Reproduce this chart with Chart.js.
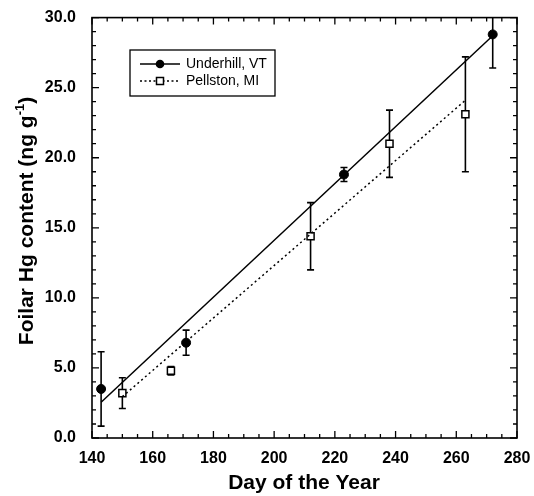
<!DOCTYPE html>
<html>
<head>
<meta charset="utf-8">
<script src="https://cdn.jsdelivr.net/npm/chart.js@4.4.1/dist/chart.umd.min.js"></script>
<style>
  body { margin: 0; background: #fff; }
  canvas { display: block; }
</style>
</head>
<body>
<canvas id="hgChart" width="534" height="496"></canvas>
<script>
// measured values (day of year, foliar Hg ng/g, +/- error)
const underhillDay = [143, 171, 223, 272];
const underhillHg = [3.5, 6.8, 18.8, 28.8];
const underhillErr = [2.65, 0.9, 0.5, 2.4];

const pellstonDay = [150, 166, 212, 238, 263];
const pellstonHg = [3.2, 4.8, 14.4, 21.0, 23.1];
const pellstonErr = [1.1, 0.3, 2.4, 2.4, 4.1];

// regression line end points
const underhillFitDay = [143, 272];
const underhillFitHg = [2.55, 28.7];
const pellstonFitDay = [150, 263];
const pellstonFitHg = [2.95, 24.1];

const xTicks = [140, 160, 180, 200, 220, 240, 260, 280];
const yTicks = [0, 5, 10, 15, 20, 25, 30];

const FONT = '"Liberation Sans", Arial, Helvetica, sans-serif';

const toPoints = (xs, ys) => xs.map((x, i) => ({ x, y: ys[i] }));

// error bars, drawn under the markers
const errorBars = {
  id: 'errorBars',
  beforeDatasetsDraw(chart) {
    const { ctx, chartArea, scales: { x, y } } = chart;
    const sets = [
      [underhillDay, underhillHg, underhillErr],
      [pellstonDay, pellstonHg, pellstonErr],
    ];
    ctx.save();
    ctx.beginPath();
    ctx.rect(chartArea.left, chartArea.top, chartArea.right - chartArea.left, chartArea.bottom - chartArea.top);
    ctx.clip();
    ctx.strokeStyle = '#000';
    ctx.lineWidth = 1.6;
    sets.forEach(([days, vals, errs]) => {
      days.forEach((d, i) => {
        const px = x.getPixelForValue(d);
        const top = y.getPixelForValue(vals[i] + errs[i]);
        const bot = y.getPixelForValue(vals[i] - errs[i]);
        ctx.beginPath();
        ctx.moveTo(px, top);
        ctx.lineTo(px, bot);
        ctx.moveTo(px - 3.5, top);
        ctx.lineTo(px + 3.5, top);
        ctx.moveTo(px - 3.5, bot);
        ctx.lineTo(px + 3.5, bot);
        ctx.stroke();
      });
    });
    ctx.restore();
  }
};

// frame, inward ticks on all four sides, titles, legend
const frame = {
  id: 'frame',
  afterDraw(chart) {
    const { ctx, chartArea: a, scales: { x, y } } = chart;
    ctx.save();
    ctx.strokeStyle = '#000';
    ctx.lineWidth = 1.6;
    ctx.strokeRect(a.left, a.top, a.right - a.left, a.bottom - a.top);

    ctx.lineWidth = 1.3;
    ctx.beginPath();
    for (let v = x.min; v <= x.max; v += 5) {
      const px = x.getPixelForValue(v);
      const len = v % 20 === 0 ? 7 : 4;
      ctx.moveTo(px, a.bottom); ctx.lineTo(px, a.bottom - len);
      ctx.moveTo(px, a.top); ctx.lineTo(px, a.top + len);
    }
    for (let v = y.min; v <= y.max; v += 1) {
      const py = y.getPixelForValue(v);
      const len = v % 5 === 0 ? 7 : 4;
      ctx.moveTo(a.left, py); ctx.lineTo(a.left + len, py);
      ctx.moveTo(a.right, py); ctx.lineTo(a.right - len, py);
    }
    ctx.stroke();

    // axis titles
    ctx.fillStyle = '#000';
    ctx.font = 'bold 21px ' + FONT;
    ctx.textAlign = 'center';
    ctx.textBaseline = 'alphabetic';
    ctx.fillText('Day of the Year', 304, 489);

    ctx.save();
    ctx.translate(33, 221);
    ctx.rotate(-Math.PI / 2);
    const main = 'Foilar Hg content (ng g';
    const sup = '-1';
    const close = ')';
    ctx.font = 'bold 21px ' + FONT;
    const wMain = ctx.measureText(main).width;
    const wClose = ctx.measureText(close).width;
    ctx.font = 'bold 13px ' + FONT;
    const wSup = ctx.measureText(sup).width;
    let sx = -(wMain + wSup + wClose) / 2;
    ctx.textAlign = 'left';
    ctx.font = 'bold 21px ' + FONT;
    ctx.fillText(main, sx, 0);
    sx += wMain;
    ctx.font = 'bold 13px ' + FONT;
    ctx.fillText(sup, sx, -9);
    sx += wSup;
    ctx.font = 'bold 21px ' + FONT;
    ctx.fillText(close, sx, 0);
    ctx.restore();

    // legend box
    ctx.lineWidth = 1.3;
    ctx.strokeRect(130, 50, 145, 46);
    ctx.font = '14px ' + FONT;
    ctx.textAlign = 'left';
    ctx.textBaseline = 'middle';

    ctx.beginPath();
    ctx.lineWidth = 1.5;
    ctx.setLineDash([]);
    ctx.moveTo(140, 64); ctx.lineTo(180, 64);
    ctx.stroke();
    ctx.beginPath();
    ctx.arc(160, 64, 4.3, 0, Math.PI * 2);
    ctx.fill();
    ctx.fillText('Underhill, VT', 186, 64.5);

    ctx.beginPath();
    ctx.setLineDash([2, 2.5]);
    ctx.moveTo(140, 81); ctx.lineTo(180, 81);
    ctx.stroke();
    ctx.setLineDash([]);
    ctx.fillStyle = '#fff';
    ctx.fillRect(156.5, 77.5, 7, 7);
    ctx.strokeRect(156.5, 77.5, 7, 7);
    ctx.fillStyle = '#000';
    ctx.fillText('Pellston, MI', 186, 81.5);
    ctx.restore();
  }
};

new Chart(document.getElementById('hgChart'), {
  type: 'scatter',
  data: {
    datasets: [
      {
        type: 'line',
        data: toPoints(underhillFitDay, underhillFitHg),
        borderColor: '#000',
        borderWidth: 1.5,
        pointRadius: 0,
        fill: false,
      },
      {
        type: 'line',
        data: toPoints(pellstonFitDay, pellstonFitHg),
        borderColor: '#000',
        borderWidth: 1.5,
        borderDash: [2, 3],
        pointRadius: 0,
        fill: false,
      },
      {
        label: 'Underhill, VT',
        data: toPoints(underhillDay, underhillHg),
        pointStyle: 'circle',
        pointRadius: 4.5,
        backgroundColor: '#000',
        borderColor: '#000',
        borderWidth: 1,
      },
      {
        label: 'Pellston, MI',
        data: toPoints(pellstonDay, pellstonHg),
        pointStyle: 'rect',
        pointRadius: 5,
        backgroundColor: '#fff',
        borderColor: '#000',
        borderWidth: 1.5,
      },
    ],
  },
  options: {
    responsive: false,
    animation: false,
    devicePixelRatio: 1,
    layout: { padding: { top: 14, right: 17, left: 0, bottom: 0 } },
    plugins: {
      legend: { display: false },
      tooltip: { enabled: false },
    },
    scales: {
      x: {
        type: 'linear',
        min: 140,
        max: 280,
        afterBuildTicks: (scale) => { scale.ticks = xTicks.map((value) => ({ value })); },
        afterFit: (scale) => { scale.height = 58; },
        grid: { display: false },
        border: { display: false },
        ticks: {
          padding: 3,
          color: '#000',
          font: { family: FONT, size: 16, weight: 'bold' },
        },
      },
      y: {
        type: 'linear',
        min: 0,
        max: 30,
        afterBuildTicks: (scale) => { scale.ticks = yTicks.map((value) => ({ value })); },
        afterFit: (scale) => { scale.width = 92; },
        grid: { display: false },
        border: { display: false },
        ticks: {
          padding: 8,
          color: '#000',
          callback: (v) => Number(v).toFixed(1),
          font: { family: FONT, size: 16, weight: 'bold' },
        },
      },
    },
  },
  plugins: [errorBars, frame],
});
</script>
</body>
</html>
